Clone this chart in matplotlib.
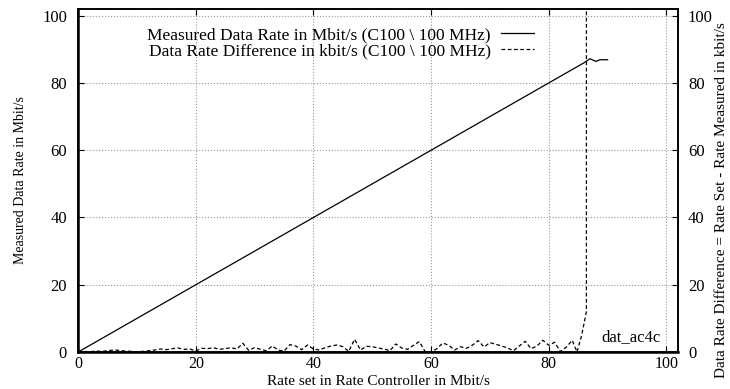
import numpy as np
import matplotlib.pyplot as plt

plt.rcParams['font.family'] = ['Liberation Serif', 'DejaVu Serif']

# measured data rate (Mbit/s) against the set rate
rate_x = list(range(0, 87)) + [87, 88, 88.7, 90]
rate_y = list(range(0, 87)) + [87.2, 86.4, 86.9, 86.9]

# rate difference (kbit/s)
diff_x = list(range(0, 85)) + [84.8, 85.6, 86.4, 86.45]
diff_y = [0.0, 0.2, 0.1, 0.3, 0.2, 0.4, 0.6, 0.5, 0.3, 0.2,
          0.1, 0.2, 0.4, 0.6, 0.9, 0.7, 1.0, 1.2, 0.8, 0.9,
          0.3, 1.1, 1.0, 1.3, 0.8, 1.0, 1.3, 0.9, 2.6, 0.5,
          1.3, 0.8, 0.4, 1.8, 0.6, 0.3, 2.2, 1.8, 0.7, 2.1,
          0.9, 0.6, 1.3, 1.8, 2.1, 1.6, 0.2, 3.8, 0.6, 1.7,
          1.6, 1.2, 0.9, 0.4, 2.4, 1.2, 0.8, 2.0, 3.1, 0.1,
          0.0, 1.0, 2.7, 2.0, 0.6, 1.6, 1.1, 2.0, 3.4, 1.5,
          2.8, 2.3, 1.8, 1.2, 0.4, 1.8, 3.2, 1.0, 1.8, 3.5,
          2.0, 2.9, 0.1, 1.5, 3.5,
          0.0, 5.0, 12.0, 1000.0]

ticks = [0, 20, 40, 60, 80, 100]

fig = plt.figure(figsize=(7.3, 3.89), dpi=100)
ax = fig.add_axes([0.107, 0.095, 0.822, 0.882])
ax2 = ax.twinx()

l1, = ax.plot(rate_x, rate_y, color='black', lw=0.9,
              label='Measured Data Rate in Mbit/s (C100 \\ 100 MHz)')
l2, = ax2.plot(diff_x, diff_y, color='black', lw=0.9, ls=(0, (3, 2)),
               label='Data Rate Difference in kbit/s (C100 \\ 100 MHz)')

for a in (ax, ax2):
    a.set_xlim(0, 102)
    a.set_ylim(0, 102)
    a.set_yticks(ticks)
    for s in a.spines.values():
        s.set_linewidth(1.2)
ax.set_xticks(ticks)
ax.grid(True, color='#999999', ls=':', lw=0.8)
ax.tick_params(axis='y', direction='in', length=4, labelsize=12, pad=8)
ax.tick_params(axis='x', direction='in', length=4, labelsize=11.5, pad=3, top=True)
ax2.tick_params(direction='in', length=4, labelsize=12, pad=7)
ax.spines['left'].set_linewidth(1.8)
ax.spines['bottom'].set_linewidth(1.8)

ax.set_xlabel('Rate set in Rate Controller in Mbit/s', fontsize=11)
ax.xaxis.set_label_coords(0.5, -0.066)
ax.set_ylabel('Measured Data Rate in Mbit/s', fontsize=10, labelpad=11)
ax2.set_ylabel('Data Rate Difference = Rate Set - Rate Measured in kbit/s',
               fontsize=11)
ax2.yaxis.set_label_coords(1.062, 0.443)

ax.text(0.97, 0.044, 'dat_ac4c', transform=ax.transAxes, fontsize=12,
        ha='right', va='center')

ax.legend(handles=[l1, l2], loc='upper right', bbox_to_anchor=(0.76, 0.948),
          frameon=False, markerfirst=False, fontsize=12.5, handlelength=1.9,
          labelspacing=0.0, handletextpad=0.6, borderaxespad=0, borderpad=0)

fig.savefig('out.png', dpi=100)
